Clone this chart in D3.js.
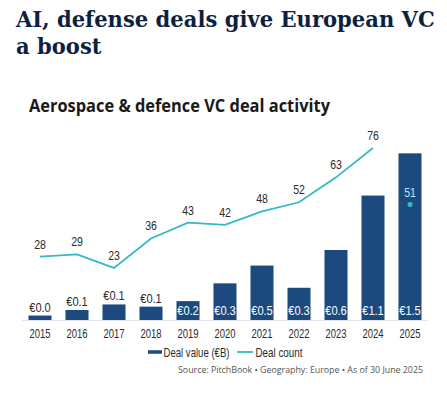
<!DOCTYPE html>
<html><head><meta charset="utf-8">
<script src="https://cdn.jsdelivr.net/npm/d3@7"></script>
<style>
html,body{margin:0;padding:0;background:#fff;}
svg{display:block;}
.cond{font-family:"Liberation Sans",Arial,sans-serif;}
</style></head>
<body>
<svg id="chart" width="447" height="393"></svg>
<script>
const years = ["2015","2016","2017","2018","2019","2020","2021","2022","2023","2024","2025"];
const dealValue = [0.04, 0.09, 0.14, 0.12, 0.17, 0.33, 0.49, 0.29, 0.63, 1.12, 1.50];
const dealCount = [28, 29, 23, 36, 43, 42, 48, 52, 63, 76, 51];
const titleLines = ["AI, defense deals give European VC", "a boost"];
const subtitle = "Aerospace & defence VC deal activity";
const legendLabels = ["Deal value (€B)", "Deal count"];
const source = "Source: PitchBook  \u2022  Geography: Europe  \u2022  As of 30 June 2025";

const navy = "#1d4a7e", teal = "#35b8c8", dark = "#2b2b2b";
const svg = d3.select("#chart");

function fitTo(sel, w){ sel.attr("textLength", w).attr("lengthAdjust","spacingAndGlyphs"); }
function squeeze(sel, f){
  sel.each(function(){
    const w = this.getComputedTextLength();
    d3.select(this).attr("textLength", w*f).attr("lengthAdjust","spacingAndGlyphs");
  });
}

// Title (horizontally scaled to fit the reference width)
const tg = svg.append("g").attr("font-family","DejaVu Serif, serif").attr("font-weight","bold")
  .attr("font-size",23).attr("fill","#0e1f3f");
const t1 = tg.append("text").attr("x",0).attr("y",0).text(titleLines[0]);
const sx = 419 / t1.node().getComputedTextLength();
t1.attr("transform",`translate(16,27) scale(${sx},1)`);
tg.append("text").attr("x",0).attr("y",0).text(titleLines[1])
  .attr("transform",`translate(16,54) scale(${sx},1)`);

// Subtitle
const st = svg.append("text").attr("x",29).attr("y",112)
  .attr("font-family","Open Sans, sans-serif").attr("font-weight","bold")
  .attr("font-size",17).attr("fill","#1a1a1a").text(subtitle);
fitTo(st, 301);

// Scales
const x = d3.scaleBand().domain(years).range([21.5,428.5]).paddingInner(0.378).paddingOuter(0.189);
const yV = d3.scaleLinear().domain([0,1.62]).range([320,140]);
const yC = d3.scaleLinear().domain([0,79.5]).range([320,140]);
const cx = d => x(d)+x.bandwidth()/2;

// baseline
svg.append("line").attr("x1",22).attr("x2",428).attr("y1",320.5).attr("y2",320.5)
  .attr("stroke","#e4e4e4").attr("stroke-width",1);

// x axis
const xAxis = d3.axisBottom(x).tickSize(0).tickPadding(0);
const gx = svg.append("g").attr("transform","translate(0,320)").call(xAxis);
gx.select(".domain").remove();
gx.selectAll("text").attr("class","cond").attr("font-family",null).attr("font-size",13.5).attr("fill",dark)
  .attr("dy",null).attr("y",17.5);
squeeze(gx.selectAll("text"), 0.7);

// bars
const data = years.map((yr,i)=>({yr, v:dealValue[i], c:dealCount[i]}));
svg.append("g").selectAll("rect").data(data).join("rect")
  .attr("x",d=>x(d.yr)).attr("width",x.bandwidth())
  .attr("y",d=>yV(d.v)).attr("height",d=>320-yV(d.v)).attr("fill",navy);

// bar labels
const fmt = d3.format(".1f");
const bl = svg.append("g").selectAll("text").data(data).join("text")
  .attr("class","cond").attr("font-size",13.5).attr("text-anchor","middle")
  .attr("x",d=>cx(d.yr))
  .attr("y",d=> (320-yV(d.v))>16 ? 315 : yV(d.v)-4)
  .attr("fill",d=> (320-yV(d.v))>16 ? "#fff" : dark)
  .text(d=>"€"+fmt(d.v));
squeeze(bl, 0.82);

// line (2015-2024)
const lineData = data.slice(0,10);
svg.append("path").datum(lineData)
  .attr("d", d3.line().x(d=>cx(d.yr)).y(d=>yC(d.c)))
  .attr("fill","none").attr("stroke",teal).attr("stroke-width",1.8);
// 2025 point
const last = data[10];
svg.append("circle").attr("cx",cx(last.yr)).attr("cy",yC(last.c)).attr("r",2.5).attr("fill",teal);

// count labels
const cl = svg.append("g").selectAll("text").data(data).join("text")
  .attr("class","cond").attr("font-size",13.5).attr("text-anchor","middle")
  .attr("x",d=>cx(d.yr)).attr("y",d=>yC(d.c)-8)
  .attr("fill",(d,i)=> i===10 ? "#bfe6ef" : dark)
  .text(d=>d.c);
squeeze(cl, 0.78);

// legend
const lg = svg.append("g");
lg.append("line").attr("x1",148).attr("x2",162).attr("y1",352).attr("y2",352).attr("stroke",navy).attr("stroke-width",3.5);
fitTo(lg.append("text").attr("class","cond").attr("x",163.5).attr("y",357).attr("font-size",13.5).attr("fill",dark).text(legendLabels[0]), 66);
lg.append("line").attr("x1",237).attr("x2",253).attr("y1",352).attr("y2",352).attr("stroke",teal).attr("stroke-width",1.8);
fitTo(lg.append("text").attr("class","cond").attr("x",255.5).attr("y",357).attr("font-size",13.5).attr("fill",dark).text(legendLabels[1]), 47);

// source
const src = svg.append("text").attr("x",178).attr("y",373)
  .attr("font-family","Open Sans, sans-serif").attr("font-size",8.5).attr("fill","#555")
  .text(source);
fitTo(src, 245);
</script>
</body></html>
